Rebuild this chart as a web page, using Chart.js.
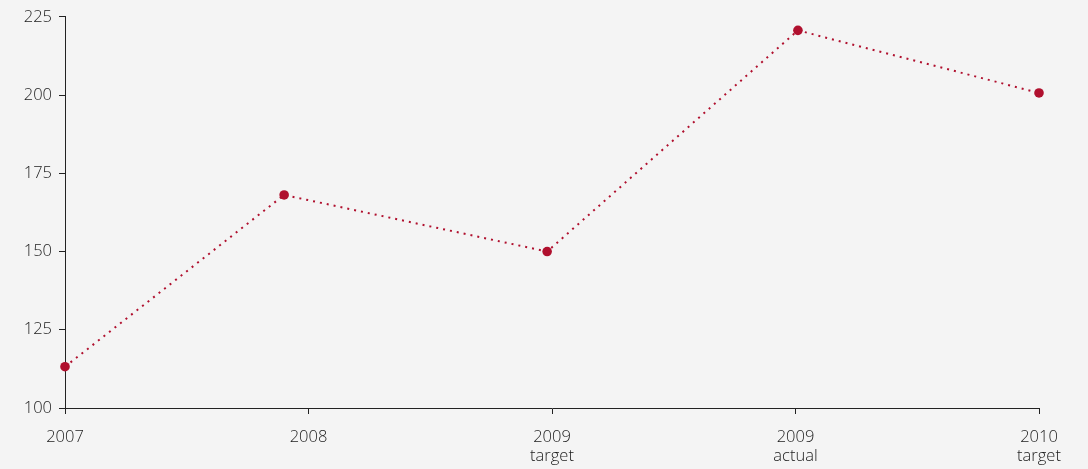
<!DOCTYPE html>
<html>
<head>
<meta charset="utf-8">
<script src="https://cdn.jsdelivr.net/npm/chart.js@4/dist/chart.umd.min.js"></script>
<style>
  html, body { margin: 0; padding: 0; background: #f4f4f4; }
  #wrap { width: 1088px; height: 469px; }
</style>
</head>
<body>
<div id="wrap"><canvas id="c" width="1088" height="469"></canvas></div>
<script>
// Category labels (multi-line)
const categories = [["2007"], ["2008"], ["2009", "target"], ["2009", "actual"], ["2010", "target"]];
// Position of each point along the x axis (in category units)
const xPositions = [0, 0.9, 1.98, 3.01, 4];
// Series values
const values = [113.2, 168.1, 150.0, 220.7, 200.7];
// Y tick settings
const yMin = 100, yMax = 225, yStep = 25;

const points = xPositions.map((x, i) => ({ x: x, y: values[i] }));
const red = '#b0102e';
const axisColor = '#222222';
const textColor = '#1c1c1c';
const fontSpec = { family: '"Open Sans", Lato, sans-serif', size: 16.5, weight: '300' };

Chart.defaults.font.family = fontSpec.family;
Chart.defaults.font.size = fontSpec.size;
Chart.defaults.color = textColor;

new Chart(document.getElementById('c'), {
  type: 'line',
  data: {
    datasets: [{
      data: points,
      clip: false,
      borderColor: red,
      backgroundColor: red,
      borderWidth: 2,
      borderDash: [2, 5],
      borderCapStyle: 'butt',
      pointRadius: 4.8,
      pointHoverRadius: 4.8,
      pointBackgroundColor: red,
      pointBorderWidth: 0,
      tension: 0,
      fill: false
    }]
  },
  options: {
    responsive: false,
    animation: false,
    layout: { padding: { top: 14, right: 49, left: 0, bottom: 0 } },
    plugins: { legend: { display: false }, tooltip: { enabled: false } },
    scales: {
      x: {
        type: 'linear',
        min: 0,
        max: categories.length - 1,
        afterFit: (s) => { s.height = 61; },
        afterBuildTicks: (s) => { s.ticks = categories.map((c, i) => ({ value: i })); },
        ticks: {
          stepSize: 1,
          padding: 14,
          maxRotation: 0,
          autoSkip: false,
          color: textColor,
          font: { family: fontSpec.family, size: fontSpec.size, weight: fontSpec.weight, lineHeight: 1.15 },
          callback: (v) => categories[v]
        },
        grid: { drawOnChartArea: false, drawTicks: true, tickLength: 6, color: axisColor, lineWidth: 1 },
        border: { display: true, color: axisColor, width: 1 }
      },
      y: {
        min: yMin,
        max: yMax,
        afterFit: (s) => { s.width = 65; },
        ticks: {
          stepSize: yStep, padding: 7, color: textColor,
          font: { family: fontSpec.family, size: fontSpec.size, weight: fontSpec.weight }
        },
        grid: { drawOnChartArea: false, drawTicks: true, tickLength: 6, color: axisColor, lineWidth: 1 },
        border: { display: true, color: axisColor, width: 1 }
      }
    }
  }
});
</script>
</body>
</html>
